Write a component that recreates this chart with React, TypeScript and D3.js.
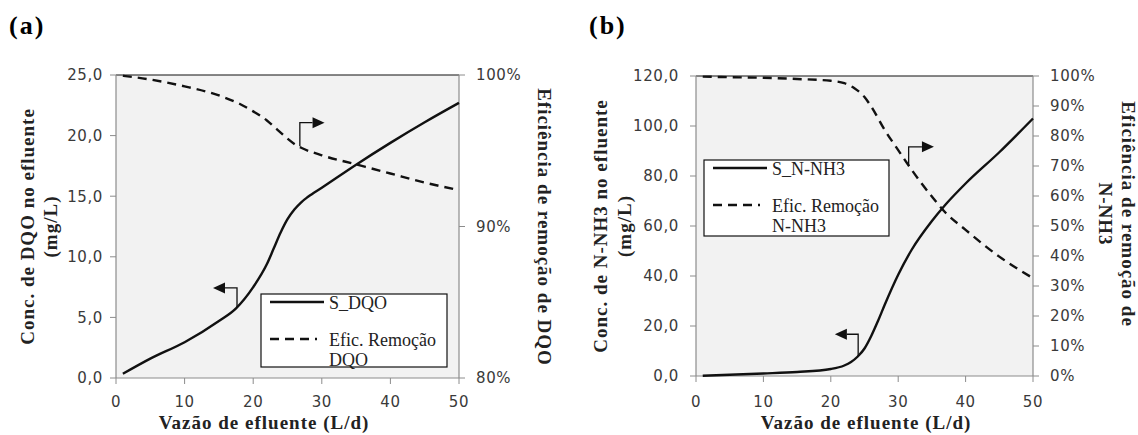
import React from "react";
import * as d3 from "d3";

// ---------- Data ----------
const flowTicks = [0, 10, 20, 30, 40, 50];

// Panel (a)
const flowA = [1, 5, 10, 15, 17.5, 20, 22, 23, 24, 25, 26, 27, 28, 30, 35, 40, 45, 50];
const sDQO = [0.35, 1.6, 2.95, 4.7, 5.75, 7.5, 9.4, 10.7, 12.0, 13.1, 13.9, 14.5, 14.95, 15.7, 17.6, 19.4, 21.1, 22.7];
const flowEffA = [1, 5, 10, 15, 18, 20, 22, 23, 24, 25, 26, 27, 30, 35, 40, 45, 50];
const effDQO = [99.95, 99.7, 99.25, 98.65, 98.1, 97.6, 97.0, 96.6, 96.2, 95.8, 95.45, 95.2, 94.7, 94.1, 93.5, 92.9, 92.4];
const leftTicksA = [0, 5, 10, 15, 20, 25];
const rightTicksA = [80, 90, 100];

// Panel (b)
const flowB = [1, 5, 10, 15, 20, 22, 23, 24, 25, 26, 27, 28, 30, 32, 35, 37, 40, 45, 50];
const sNH3 = [0.1, 0.5, 1.0, 1.6, 2.8, 4.2, 5.6, 7.8, 11, 16, 22, 28.5, 40.5, 50.5, 62, 68.5, 77, 89.5, 103];
const flowEffB = [1, 5, 10, 15, 20, 22, 23.5, 25, 26, 28, 30, 32, 35, 37, 40, 45, 50];
const effNH3 = [99.8, 99.6, 99.4, 99.0, 98.4, 97.6, 95.9, 93, 89.8, 82, 75.3, 68.7, 59.8, 54.5, 48.7, 39.8, 32.6];
const leftTicksB = [0, 20, 40, 60, 80, 100, 120];
const rightTicksB = [0, 10, 20, 30, 40, 50, 60, 70, 80, 90, 100];

type Arrow = { x: number; y0: number; y1: number; tip: number; axis: "left" | "right" };

type PanelProps = {
  tag: string;
  box: { l: number; r: number; t: number; b: number };
  yMax: number;
  rMin: number;
  leftTicks: number[];
  rightTicks: number[];
  solidX: number[];
  solidY: number[];
  dashX: number[];
  dashY: number[];
  solidName: string;
  dashName: string[];
  leftTitle: string[];
  leftTitleX: number[];
  rightTitle: string[];
  rightTitleX: number[];
  rightTitleY: number;
  leftGap: number;
  xTitleCenter: number;
  legend: { l: number; r: number; t: number; b: number };
  arrows: Arrow[];
};

const serif = "'Liberation Serif', 'Times New Roman', serif";
const sans = "'DejaVu Sans', Verdana, sans-serif";

function Panel(p: PanelProps) {
  const { box } = p;
  const x = d3.scaleLinear().domain([0, 50]).range([box.l, box.r]);
  const yl = d3.scaleLinear().domain([0, p.yMax]).range([box.b, box.t]);
  const yr = d3.scaleLinear().domain([p.rMin, 100]).range([box.b, box.t]);
  const line = d3.line<[number, number]>().curve(d3.curveMonotoneX);
  const solidPath = line(p.solidX.map((v, i) => [x(v), yl(p.solidY[i])]))!;
  const dashPath = line(p.dashX.map((v, i) => [x(v), yr(p.dashY[i])]))!;
  const fmtL = (v: number) => v.toFixed(1).replace(".", ",");
  const midY = (box.t + box.b) / 2;
  const lg = p.legend;

  return (
    <g>
      <text x={box.l - 107} y={34} fontFamily={serif} fontWeight="bold" fontSize={26} letterSpacing={2}>
        {p.tag}
      </text>
      <rect x={box.l} y={box.t} width={box.r - box.l} height={box.b - box.t} fill="#f2f2f2" />
      {/* axes */}
      <line x1={box.l} x2={box.r} y1={box.t} y2={box.t} stroke="#111" strokeWidth={1.2} />
      <line x1={box.l} x2={box.l} y1={box.t} y2={box.b} stroke="#8c8c8c" strokeWidth={1.2} />
      <line x1={box.r} x2={box.r} y1={box.t} y2={box.b} stroke="#8c8c8c" strokeWidth={1.2} />
      <line x1={box.l} x2={box.r} y1={box.b} y2={box.b} stroke="#8c8c8c" strokeWidth={1.2} />
      {p.leftTicks.map((t) => (
        <g key={"l" + t}>
          <line x1={box.l - 6} x2={box.l} y1={yl(t)} y2={yl(t)} stroke="#8c8c8c" />
          <text x={box.l - p.leftGap} y={yl(t)} dy="0.36em" textAnchor="end" fontFamily={sans} fontSize={15} fill="#3a3a3a" letterSpacing={0.6}>
            {fmtL(t)}
          </text>
        </g>
      ))}
      {p.rightTicks.map((t) => (
        <g key={"r" + t}>
          <line x1={box.r} x2={box.r + 6} y1={yr(t)} y2={yr(t)} stroke="#8c8c8c" />
          <text x={box.r + 17} y={yr(t)} dy="0.36em" textAnchor="start" fontFamily={sans} fontSize={15} fill="#3a3a3a" letterSpacing={0.6}>
            {t + "%"}
          </text>
        </g>
      ))}
      {flowTicks.map((t) => (
        <g key={"x" + t}>
          <line x1={x(t)} x2={x(t)} y1={box.b} y2={box.b + 6} stroke="#8c8c8c" />
          <text x={x(t)} y={407} textAnchor="middle" fontFamily={sans} fontSize={15} fill="#3a3a3a" letterSpacing={0.6}>
            {t}
          </text>
        </g>
      ))}
      {/* series */}
      <path d={dashPath} fill="none" stroke="#111" strokeWidth={2.4} strokeDasharray="9,6" />
      <path d={solidPath} fill="none" stroke="#111" strokeWidth={2.4} />
      {/* arrows */}
      {p.arrows.map((a, i) => {
        const ys = a.axis === "left" ? yl : yr;
        const ax = x(a.x);
        const y0 = ys(a.y0);
        const y1 = ys(a.y1);
        const tip = x(a.tip);
        const dir = tip < ax ? 1 : -1;
        const base = tip + dir * 12;
        return (
          <g key={"a" + i}>
            <polyline points={`${ax},${y0} ${ax},${y1} ${base},${y1}`} fill="none" stroke="#111" strokeWidth={1.3} />
            <polygon points={`${tip},${y1} ${base},${y1 - 5.5} ${base},${y1 + 5.5}`} fill="#111" />
          </g>
        );
      })}
      {/* legend */}
      <rect x={lg.l} y={lg.t} width={lg.r - lg.l} height={lg.b - lg.t} fill="#fff" stroke="#111" strokeWidth={1.2} />
      <line x1={lg.l + 9} x2={lg.l + 63} y1={lg.t + 8} y2={lg.t + 8} stroke="#111" strokeWidth={2.4} />
      <text x={lg.l + 68} y={lg.t + 15} fontFamily={serif} fontSize={18} fill="#222">
        {p.solidName}
      </text>
      <line x1={lg.l + 9} x2={lg.l + 56} y1={lg.t + 45} y2={lg.t + 45} stroke="#111" strokeWidth={2.4} strokeDasharray="9,6" />
      {p.dashName.map((s, i) => (
        <text key={"dn" + i} x={lg.l + 68} y={lg.t + 52 + i * 20} fontFamily={serif} fontSize={18} fill="#222">
          {s}
        </text>
      ))}
      {/* titles */}
      <text x={p.xTitleCenter} y={429} textAnchor="middle" fontFamily={serif} fontWeight="bold" fontSize={19} letterSpacing={1} fill="#222">
        Vazão de efluente (L/d)
      </text>
      {p.leftTitle.map((s, i) => (
        <text key={"lt" + i} transform={`translate(${p.leftTitleX[i]},${midY}) rotate(-90)`} textAnchor="middle" dominantBaseline="central" fontFamily={serif} fontWeight="bold" fontSize={19} letterSpacing={1} fill="#222">
          {s}
        </text>
      ))}
      {p.rightTitle.map((s, i) => (
        <text key={"rt" + i} transform={`translate(${p.rightTitleX[i]},${p.rightTitleY}) rotate(90)`} textAnchor="middle" dominantBaseline="central" fontFamily={serif} fontWeight="bold" fontSize={19} letterSpacing={1} fill="#222">
          {s}
        </text>
      ))}
    </g>
  );
}

export default function App() {
  return (
    <svg width={1138} height={435} style={{ position: "absolute", left: 0, top: 0, background: "#fff" }}>
      <rect width={1138} height={435} fill="#fff" />
      <Panel
        tag="(a)"
        box={{ l: 116, r: 459, t: 75, b: 378 }}
        yMax={25}
        rMin={80}
        leftTicks={leftTicksA}
        rightTicks={rightTicksA}
        solidX={flowA}
        solidY={sDQO}
        dashX={flowEffA}
        dashY={effDQO}
        solidName="S_DQO"
        dashName={["Efic. Remoção", "DQO"]}
        leftTitle={["Conc. de DQO no efluente", "(mg/L)"]}
        leftTitleX={[27, 50]}
        rightTitle={["Eficiência de remoção de DQO"]}
        rightTitleX={[544]}
        rightTitleY={227}
        leftGap={13}
        xTitleCenter={264}
        legend={{ l: 261, r: 447, t: 294, b: 367 }}
        arrows={[
          { x: 17.64, y0: 5.86, y1: 7.43, tip: 14.14, axis: "left" },
          { x: 26.8, y0: 95.3, y1: 96.85, tip: 30.4, axis: "right" },
        ]}
      />
      <Panel
        tag="(b)"
        box={{ l: 696, r: 1033, t: 76, b: 376 }}
        yMax={120}
        rMin={0}
        leftTicks={leftTicksB}
        rightTicks={rightTicksB}
        solidX={flowB}
        solidY={sNH3}
        dashX={flowEffB}
        dashY={effNH3}
        solidName="S_N-NH3"
        dashName={["Efic. Remoção", "N-NH3"]}
        leftTitle={["Conc. de N-NH3 no efluente", "(mg/L)"]}
        leftTitleX={[600, 624]}
        rightTitle={["Eficiência de remoção de", "N-NH3"]}
        rightTitleX={[1128, 1105]}
        rightTitleY={214}
        leftGap={17}
        xTitleCenter={866}
        legend={{ l: 704, r: 889, t: 160, b: 236 }}
        arrows={[
          { x: 24.06, y0: 8.0, y1: 16.7, tip: 20.6, axis: "left" },
          { x: 31.55, y0: 70.1, y1: 76.4, tip: 35.3, axis: "right" },
        ]}
      />
    </svg>
  );
}
